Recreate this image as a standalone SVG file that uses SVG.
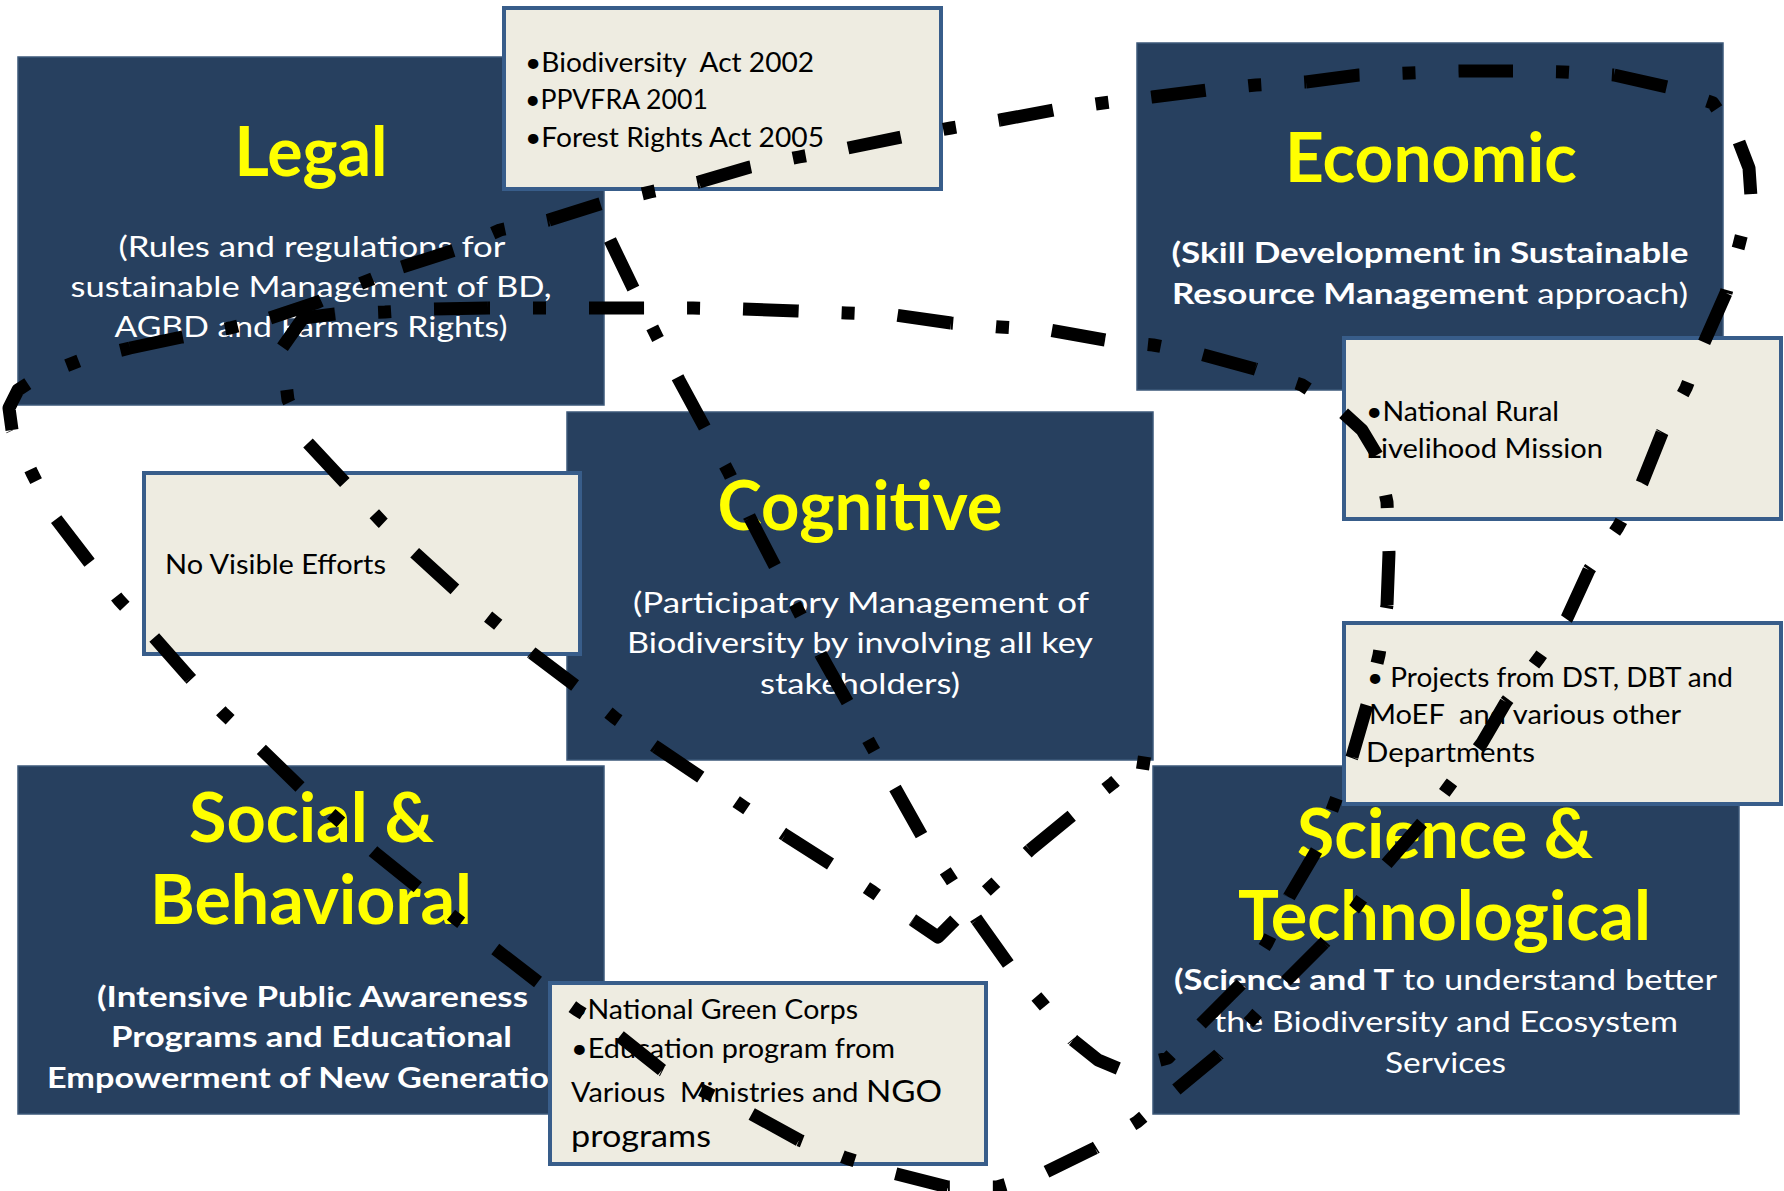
<svg xmlns="http://www.w3.org/2000/svg" width="1784" height="1191" viewBox="0 0 1784 1191">
<style>
.dark{fill:#27405f;stroke:#3d5879;stroke-width:1.5}
.beige{fill:#eeece1;stroke:#385d8a;stroke-width:4}
text{font-family:Lato,"Liberation Sans",sans-serif}
.title{font-weight:700;font-size:68px;fill:#ffff00;text-anchor:middle}
.sub{font-size:29px;fill:#ffffff;text-anchor:middle}
.b{font-weight:700}
.r{font-weight:400}
.note{font-size:27px;fill:#000000}
.big{font-size:31px}
.dd{fill:none;stroke:#000000;stroke-width:13;stroke-dasharray:54 43 13 43;stroke-linejoin:round;stroke-linecap:butt}
</style>
<rect width="1784" height="1191" fill="#ffffff"/>

<g id="legal">
<rect class="dark" x="18" y="57" width="586" height="348"/>
<text class="title" x="311" y="176" textLength="153" lengthAdjust="spacingAndGlyphs">Legal</text>
<text class="sub" x="312" y="257" textLength="387" lengthAdjust="spacingAndGlyphs">(Rules and regulations for</text>
<text class="sub" x="311" y="297" textLength="481" lengthAdjust="spacingAndGlyphs">sustainable Management of BD,</text>
<text class="sub" x="311" y="337" textLength="393" lengthAdjust="spacingAndGlyphs">AGBD and Farmers Rights)</text>
</g>

<g id="legal-instruments">
<rect class="beige" x="504" y="8" width="437" height="181"/>
<text class="note" x="525" y="72" xml:space="preserve" textLength="289" lengthAdjust="spacingAndGlyphs">•Biodiversity  Act 2002</text>
<text class="note" x="525" y="109" textLength="183" lengthAdjust="spacingAndGlyphs">•PPVFRA 2001</text>
<text class="note" x="525" y="147" textLength="299" lengthAdjust="spacingAndGlyphs">•Forest Rights Act 2005</text>
</g>

<g id="economic">
<rect class="dark" x="1137" y="43" width="586" height="347"/>
<text class="title" x="1431" y="182" textLength="292" lengthAdjust="spacingAndGlyphs">Economic</text>
<text class="sub b" x="1430" y="263" textLength="517" lengthAdjust="spacingAndGlyphs">(Skill Development in Sustainable</text>
<text class="sub" x="1430" y="304" textLength="516" lengthAdjust="spacingAndGlyphs"><tspan class="b">Resource Management</tspan> approach)</text>
</g>

<g id="economic-instruments">
<rect class="beige" x="1344" y="338" width="437" height="181"/>
<text class="note" x="1366" y="421" textLength="193" lengthAdjust="spacingAndGlyphs">•National Rural</text>
<text class="note" x="1366" y="458" textLength="237" lengthAdjust="spacingAndGlyphs">Livelihood Mission</text>
</g>

<g id="cognitive">
<rect class="dark" x="567" y="412" width="586" height="348"/>
<text class="title" x="860" y="530" textLength="285" lengthAdjust="spacingAndGlyphs">Cognitive</text>
<text class="sub" x="861" y="613" textLength="456" lengthAdjust="spacingAndGlyphs">(Participatory Management of</text>
<text class="sub" x="860" y="653" textLength="466" lengthAdjust="spacingAndGlyphs">Biodiversity by involving all key</text>
<text class="sub" x="860" y="694" textLength="200" lengthAdjust="spacingAndGlyphs">stakeholders)</text>
</g>

<g id="cognitive-instruments">
<rect class="beige" x="144" y="473" width="436" height="181"/>
<text class="note" x="165" y="574" textLength="221" lengthAdjust="spacingAndGlyphs">No Visible Efforts</text>
</g>

<g id="social">
<rect class="dark" x="18" y="766" width="586" height="348"/>
<text class="title" x="311.5" y="842" textLength="245" lengthAdjust="spacingAndGlyphs">Social &amp;</text>
<text class="title" x="311" y="924" textLength="322" lengthAdjust="spacingAndGlyphs">Behavioral</text>
<text class="sub b" x="312.5" y="1007" textLength="431" lengthAdjust="spacingAndGlyphs">(Intensive Public Awareness</text>
<text class="sub b" x="311.5" y="1047" textLength="401" lengthAdjust="spacingAndGlyphs">Programs and Educational</text>
<text class="sub b" x="47" y="1088" style="text-anchor:start" textLength="530" lengthAdjust="spacingAndGlyphs">Empowerment of New Generation)</text>
</g>

<g id="social-instruments">
<rect class="beige" x="550" y="983" width="436" height="181"/>
<text class="note" x="571" y="1019" textLength="287" lengthAdjust="spacingAndGlyphs">•National Green Corps</text>
<text class="note" x="571" y="1058" textLength="324" lengthAdjust="spacingAndGlyphs">•Education program from</text>
<text class="note" x="571" y="1102" xml:space="preserve" textLength="371" lengthAdjust="spacingAndGlyphs">Various  Ministries and <tspan class="big">NGO</tspan></text>
<text class="note big" x="571" y="1147" textLength="140" lengthAdjust="spacingAndGlyphs">programs</text>
</g>

<g id="science">
<rect class="dark" x="1153" y="766" width="586" height="348"/>
<text class="title" x="1445" y="858" textLength="296" lengthAdjust="spacingAndGlyphs">Science &amp;</text>
<text class="title" x="1444.5" y="940" textLength="413" lengthAdjust="spacingAndGlyphs">Technological</text>
<text class="sub" x="1445.5" y="990" textLength="543" lengthAdjust="spacingAndGlyphs"><tspan class="b">(Science and T</tspan> to understand better</text>
<text class="sub" x="1446" y="1032" textLength="464" lengthAdjust="spacingAndGlyphs">the Biodiversity and Ecosystem</text>
<text class="sub" x="1445.5" y="1073" textLength="121" lengthAdjust="spacingAndGlyphs">Services</text>
</g>

<g id="science-instruments">
<rect class="beige" x="1344" y="623" width="437" height="181"/>
<text class="note" x="1367" y="687" textLength="366" lengthAdjust="spacingAndGlyphs">• Projects from DST, DBT and</text>
<text class="note" x="1369" y="724" xml:space="preserve" textLength="312" lengthAdjust="spacingAndGlyphs">MoEF  and various other</text>
<text class="note" x="1366" y="762" textLength="169" lengthAdjust="spacingAndGlyphs">Departments</text>
</g>

<g id="connectors">
<path id="outer-loop" class="dd" d="M549,220 L603,203 L650,192 L699,182 M699,182 L750,167 L799,157 L848,148 M848,148 L902,137 L951,128 L1000,120 M1000,120 L1054,110 L1103,103 L1152,97 M1152,97 L1207,90 L1256,85 L1306,82 M1306,82 L1359,75 L1410,73 L1459,71 M1459,71 L1514,71 L1563,72 L1614,75 M1614,75 L1667,87 L1713,103 L1739,142 M1739,142 L1749,168 L1751,197 L1739,245 L1726,293 M1726,293 L1703,345 L1686,388 L1662,433 M1662,433 L1642,483 L1618,527 L1589,570 M1589,570 L1567,618 L1539,658 L1506,702 M1506,702 L1482,743 L1450,785 L1422,823 M1422,823 L1383,868 L1356,907 L1324,943 M1324,943 L1287,980 L1251,1020 L1218,1055 M1218,1055 L1172,1093 L1137,1122 L1095,1148 M1095,1148 L1044,1173 L997,1187 L948,1187 M948,1187 L893,1173 L846,1158 L799,1140 M799,1140 L750,1113 L705,1092 L662,1070 M662,1070 L618,1035 L577,1010 L538,982 M538,982 L494,948 L455,918 L415,885 M415,885 L374,852 L336,818 L300,787 M300,787 L259,747 L223,713 L190,678 M190,678 L152,635 L119,600 L89,562 M89,562 L53,515 L32,473 L12,430 M12,430 L9,408 L18,390 L38,377 L81,360 L130,348 M130,348 L182,337 L230,328 L270,318 M270,318 L318,302 L357,285 L402,267 M402,267 L455,250 L500,230 L549,220"/>
<path id="inner-link" class="dd" d="M610,240 L634,290 L657,337 L679,380 M679,380 L705,428 L729,473 L750,518 M750,518 L776,568 L799,612 L821,655 M821,655 L848,703 L872,747 L895,788 M895,788 L922,836 L950,878 L977,920 M977,920 L1009,965 L1042,1003 L1073,1040 M1073,1040 L1098,1060 L1122,1070 L1168,1058 L1203,1022 M1203,1022 L1242,983 L1267,943 L1289,897 M1289,897 L1318,848 L1335,802 L1352,757 M1352,757 L1367,705 L1379,655 L1387,605 M1387,605 L1389,553 L1387,502 L1377,455 M1377,455 L1362,430 L1340,410 L1302,385 L1255,369 M1255,369 L1200,354 L1153,345 L1105,340 M1105,340 L1049,330 L1000,327 L951,323 M951,323 L895,315 L846,313 L797,311 M797,311 L742,309 L693,308 L643,308 M643,308 L588,308 L539,308 L488,308 M488,308 L433,309 L385,312 L335,314 M308,443 L350,488 L382,522 L415,553 M415,553 L461,595 L496,623 L532,653 M532,653 L581,690 L615,718 L656,747 M656,747 L705,780 L744,807 L785,835 M785,835 L832,865 L873,892 L913,920 M913,920 L938,937 L958,917 L995,883 L1030,850 M1030,850 L1075,813 L1113,783 L1137,762 M1137,762 L1150,764"/>
<path id="inner-link-bend" class="dd" style="stroke-dasharray:68 43 13 200" d="M335,314 L303,318 L282,348 L285,375 L288,400 L300,425 L308,443"/>
</g>
</svg>
